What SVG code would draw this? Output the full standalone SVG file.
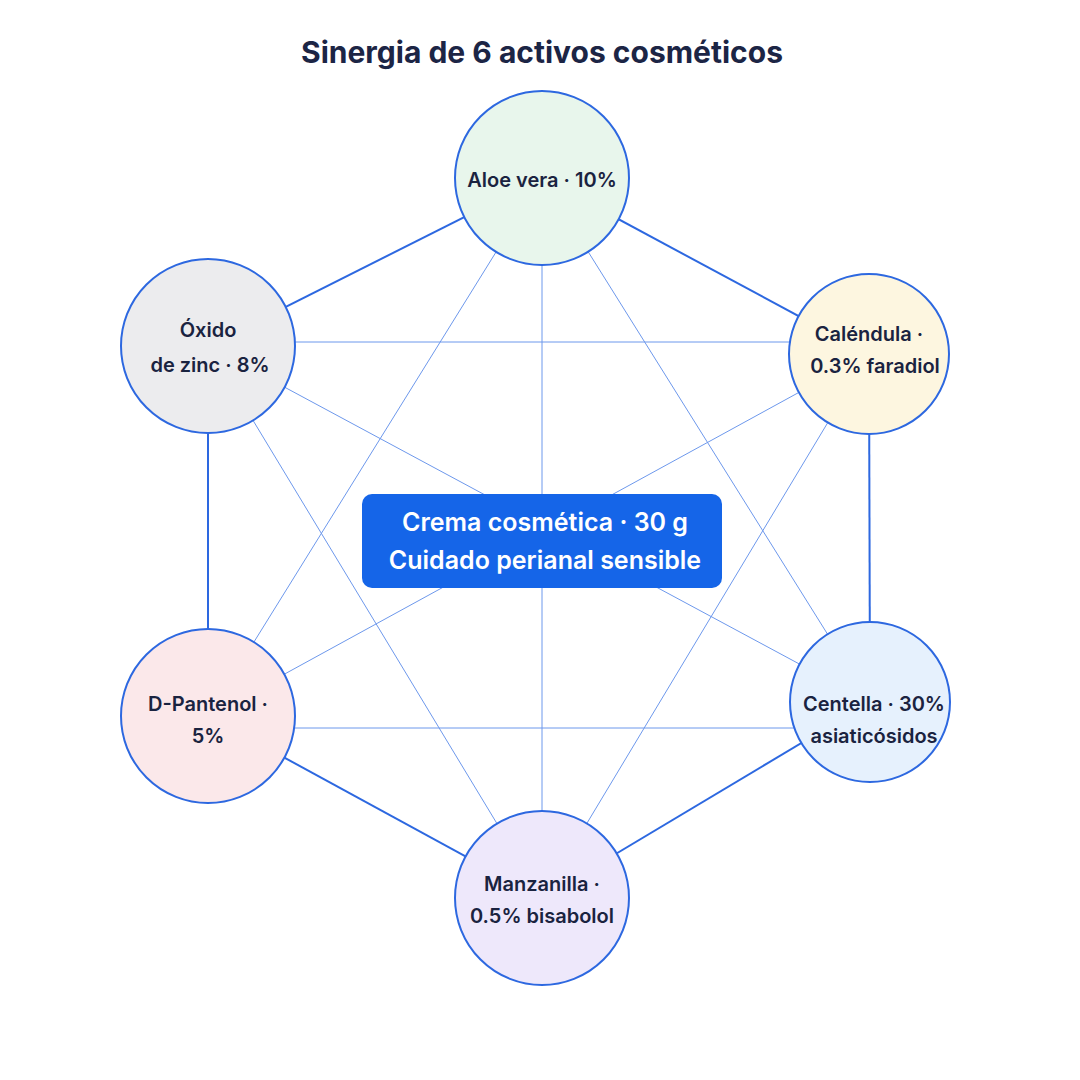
<svg xmlns="http://www.w3.org/2000/svg" width="1080" height="1080" viewBox="0 0 1080 1080">
<style>
.o{stroke:#2d68e0;stroke-width:2;fill:none}
.i{stroke:#6d98ec;stroke-width:1;fill:none}
.n{stroke:#2d68e0;stroke-width:2}
.t{font-family:Inter,"Liberation Sans",sans-serif;font-weight:600;font-size:20px;fill:#1a2340;text-anchor:middle}
.c{font-family:Inter,"Liberation Sans",sans-serif;font-weight:600;font-size:25px;fill:#fff;text-anchor:middle}
</style>
<rect width="1080" height="1080" fill="#fff"/>
<text x="542" y="63" font-family="Inter,'Liberation Sans',sans-serif" font-weight="700" font-size="30" fill="#1c2545" text-anchor="middle">Sinergia de 6 activos cosméticos</text>
<g id="connectors">
<line class="o" x1="542" y1="178" x2="869" y2="354"/>
<line class="o" x1="869" y1="354" x2="870" y2="702"/>
<line class="o" x1="870" y1="702" x2="542" y2="898"/>
<line class="o" x1="542" y1="898" x2="208" y2="716"/>
<line class="o" x1="208" y1="716" x2="208" y2="346"/>
<line class="o" x1="208" y1="346" x2="542" y2="178"/>
<line class="i" x1="542" y1="178" x2="870" y2="702"/>
<line class="i" x1="542" y1="178" x2="542" y2="898"/>
<line class="i" x1="542" y1="178" x2="208" y2="716"/>
<line class="i" x1="869" y1="354" x2="542" y2="898"/>
<line class="i" x1="869" y1="354" x2="208" y2="716"/>
<line class="i" x1="208" y1="342" x2="869" y2="342"/>
<line class="i" x1="870" y1="702" x2="208" y2="346"/>
<line class="i" x1="208" y1="728" x2="870" y2="728"/>
<line class="i" x1="542" y1="898" x2="208" y2="346"/>
</g>
<g id="center"><rect x="362" y="494" width="360" height="94" rx="10" fill="#1565e8"/>
<text class="c" x="545" y="531">Crema cosmética · 30 g</text>
<text class="c" x="545" y="569">Cuidado perianal sensible</text></g>
<g id="aloe"><circle class="n" cx="542" cy="178" r="87" fill="#e8f6ec"/><text class="t" x="542" y="187">Aloe vera · 10%</text></g>
<g id="calendula"><circle class="n" cx="869" cy="354" r="80" fill="#fdf6e0"/><text class="t" x="869" y="341">Caléndula ·</text><text class="t" x="875" y="373">0.3% faradiol</text></g>
<g id="centella"><circle class="n" cx="870" cy="702" r="80" fill="#e6f1fd"/><text class="t" x="874" y="711">Centella · 30%</text><text class="t" x="874" y="743">asiaticósidos</text></g>
<g id="manzanilla"><circle class="n" cx="542" cy="898" r="87" fill="#eee8fb"/><text class="t" x="542" y="891">Manzanilla ·</text><text class="t" x="542" y="923">0.5% bisabolol</text></g>
<g id="pantenol"><circle class="n" cx="208" cy="716" r="87" fill="#fbe8ea"/><text class="t" x="208" y="711">D-Pantenol ·</text><text class="t" x="208" y="743">5%</text></g>
<g id="oxido"><circle class="n" cx="208" cy="346" r="87" fill="#ececee"/><text class="t" x="208" y="337">Óxido</text><text class="t" x="210" y="372">de zinc · 8%</text></g>
</svg>
